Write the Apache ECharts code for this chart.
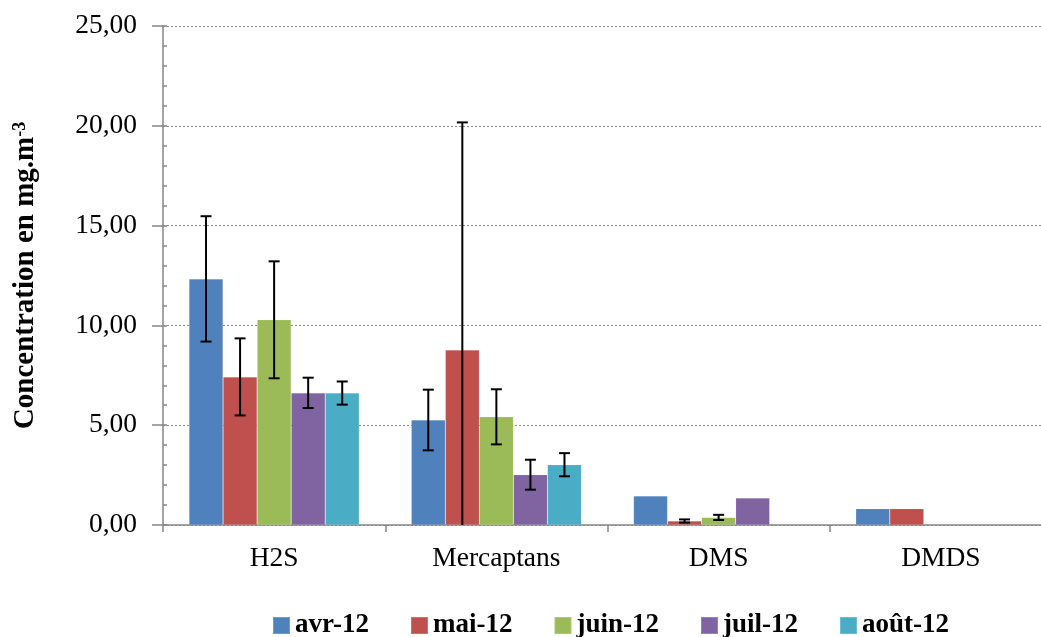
<!DOCTYPE html>
<html>
<head>
<meta charset="utf-8">
<script src="https://cdn.jsdelivr.net/npm/echarts@6/dist/echarts.min.js"></script>
<style>html,body{margin:0;padding:0;background:#fff}#c{width:1041px;height:637px}</style>
</head>
<body>
<div id="c"></div>
<script>
const categories = ['H2S', 'Mercaptans', 'DMS', 'DMDS'];
const seriesNames = ['avr-12', 'mai-12', 'juin-12', 'juil-12', 'août-12'];
const colors = ['#4F81BD', '#C0504D', '#9BBB59', '#8064A2', '#4BACC6'];

const avr  = [12.33, 5.26, 1.45, 0.82];
const mai  = [7.42, 8.77, 0.20, 0.82];
const juin = [10.28, 5.42, 0.38, null];
const juil = [6.62, 2.52, 1.35, null];
const aout = [6.61, 3.02, null, null];

const avrErr  = [3.14, 1.52, null, null];
const maiErr  = [1.93, 11.40, 0.08, null];
const juinErr = [2.93, 1.38, 0.13, null];
const juilErr = [0.76, 0.75, null, null];
const aoutErr = [0.58, 0.58, null, null];

const yTicks = [0, 5, 10, 15, 20, 25];

const values = [avr, mai, juin, juil, aout];
const errs = [avrErr, maiErr, juinErr, juilErr, aoutErr];
const CAT_GAP = 0.234;
const FONT = 'Liberation Serif';

const errData = [];
values.forEach((arr, k) => {
  arr.forEach((v, c) => {
    const e = errs[k][c];
    if (v != null && e != null) errData.push([c, k, v, e]);
  });
});

const barSeries = values.map((arr, k) => ({
  name: seriesNames[k],
  type: 'bar',
  data: arr.map(v => v == null ? '-' : v),
  barGap: '0%',
  barCategoryGap: (CAT_GAP * 100) + '%',
  itemStyle: { color: colors[k], borderColor: 'rgba(255,255,255,0.2)', borderWidth: 0.6 },
  yAxisIndex: 0
}));

const chart = echarts.init(document.getElementById('c'), null, { renderer: 'canvas' });
chart.setOption({
  animation: false,
  backgroundColor: '#ffffff',
  color: colors,
  grid: { left: 163, top: 26, bottom: 112, width: 889, containLabel: false, outerBoundsMode: 'none' },
  legend: {
    data: seriesNames,
    left: 267,
    top: 607,
    itemWidth: 17,
    itemHeight: 17,
    itemGap: 41,
    icon: 'rect',
    textStyle: { fontFamily: FONT, fontWeight: 'bold', fontSize: 27, color: '#000' }
  },
  xAxis: {
    type: 'category',
    data: categories,
    axisLine: { lineStyle: { color: '#868686', width: 1.5 } },
    axisTick: { show: true, length: 7, interval: 0, lineStyle: { color: '#868686', width: 1.5 } },
    axisLabel: { fontFamily: FONT, fontSize: 27.5, color: '#000', margin: 20, interval: 0 },
    splitLine: { show: false }
  },
  yAxis: [
    {
      type: 'value',
      min: yTicks[0],
      max: yTicks[yTicks.length - 1],
      interval: yTicks[1] - yTicks[0],
      name: '{a|Concentration en mg.m}{s|-3}',
      nameLocation: 'middle',
      nameGap: 122,
      nameTextStyle: {
        rich: {
          a: { fontFamily: FONT, fontWeight: 'bold', fontSize: 29, color: '#000' },
          s: { fontFamily: FONT, fontWeight: 'bold', fontSize: 18, color: '#000', verticalAlign: 'top', padding: [0, 0, 12, 0] }
        }
      },
      axisLine: { show: true, lineStyle: { color: '#868686', width: 1.5 } },
      axisTick: { show: true, inside: false, length: 11, lineStyle: { color: '#868686', width: 1.5 } },
      axisLabel: {
        fontFamily: FONT, fontSize: 27.5, color: '#000', margin: 26,
        formatter: v => v.toFixed(2).replace('.', ',')
      },
      splitLine: { show: true, lineStyle: { color: '#8c8c8c', type: [2, 2], width: 1 } }
    },
    {
      type: 'value',
      position: 'left',
      offset: 0,
      min: yTicks[0],
      max: yTicks[yTicks.length - 1],
      interval: yTicks[1] - yTicks[0],
      axisLine: { show: false },
      axisTick: { show: true, inside: true, length: 4, lineStyle: { color: '#868686', width: 1.5 } },
      minorTick: { show: true, splitNumber: 5, length: 4, lineStyle: { color: '#868686', width: 1.5 } },
      axisLabel: { show: false },
      splitLine: { show: false }
    }
  ],
  series: barSeries.concat([{
    type: 'custom',
    name: 'err',
    z: 10,
    yAxisIndex: 0,
    encode: { x: 0, y: 2 },
    data: errData,
    renderItem: function (params, api) {
      const c = api.value(0), k = api.value(1), v = api.value(2), e = api.value(3);
      const bw = api.size([1, 0])[0];
      const group = bw * (1 - CAT_GAP);
      const barW = group / seriesNames.length;
      const cx = api.coord([c, 0])[0] - group / 2 + barW * (k + 0.5);
      const hi = v + e, lo = Math.max(0, v - e);
      const yHi = api.coord([c, hi])[1];
      const yLo = api.coord([c, lo])[1];
      const cap = 5.5;
      const style = { stroke: '#000', lineWidth: 2 };
      const children = [
        { type: 'line', shape: { x1: cx, y1: yHi, x2: cx, y2: yLo }, style: style },
        { type: 'line', shape: { x1: cx - cap, y1: yHi, x2: cx + cap, y2: yHi }, style: style }
      ];
      if (v - e >= 0) {
        children.push({ type: 'line', shape: { x1: cx - cap, y1: yLo, x2: cx + cap, y2: yLo }, style: style });
      }
      return { type: 'group', children: children };
    }
  }])
});
</script>
</body>
</html>
